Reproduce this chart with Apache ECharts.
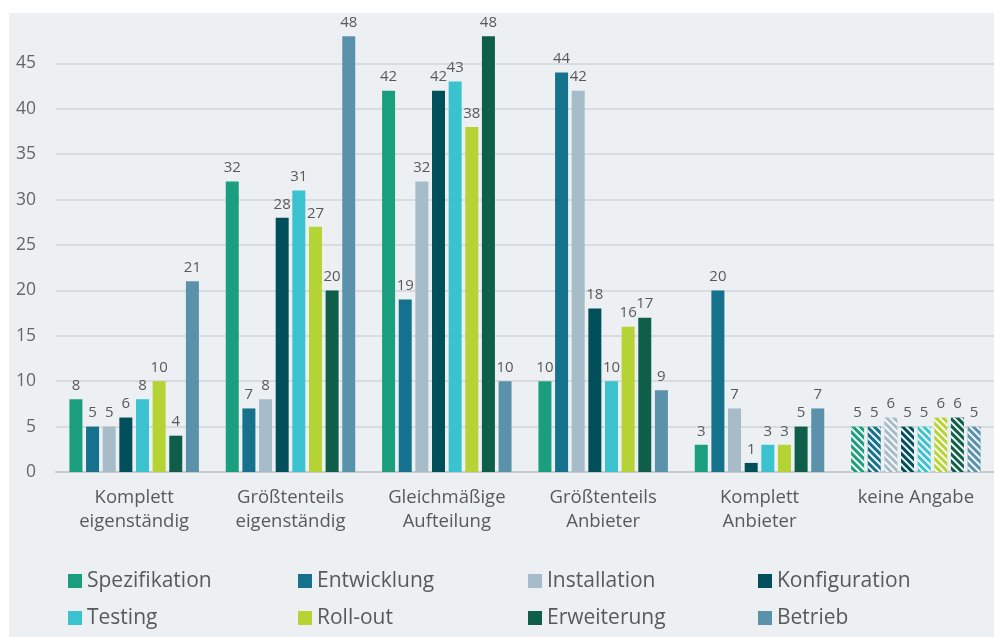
<!DOCTYPE html>
<html><head><meta charset="utf-8">
<script src="https://cdn.jsdelivr.net/npm/echarts@6/dist/echarts.min.js"></script>
<style>
html,body{margin:0;padding:0;background:#fff;}
#bg{position:absolute;left:9px;top:13px;width:985px;height:624px;background:#edf0f3;}
#chart{position:absolute;left:0;top:0;width:994px;height:637px;}
</style></head>
<body><div id="bg"></div><div id="chart"></div>
<script>
const categories = ['Komplett\neigenständig','Größtenteils\neigenständig','Gleichmäßige\nAufteilung','Größtenteils\nAnbieter','Komplett\nAnbieter','keine Angabe'];
const seriesNames = ['Spezifikation','Entwicklung','Installation','Konfiguration','Testing','Roll-out','Erweiterung','Betrieb'];
const spezifikation = [8, 32, 42, 10, 3, 5];
const entwicklung = [5, 7, 19, 44, 20, 5];
const installation = [5, 8, 32, 42, 7, 6];
const konfiguration = [6, 28, 42, 18, 1, 5];
const testing = [8, 31, 43, 10, 3, 5];
const rollout = [10, 27, 38, 16, 3, 6];
const erweiterung = [4, 20, 48, 17, 5, 6];
const betrieb = [21, 48, 10, 9, 7, 5];
const hatchedCategory = 'keine Angabe';

const values = [spezifikation, entwicklung, installation, konfiguration, testing, rollout, erweiterung, betrieb];
const colors = ['#1a9e7e','#16718c','#a6bcc8','#004f5a','#3ac3cf','#b5d334','#0f5e4a','#5a92ac'];
const FONT = '"Open Sans", "Noto Sans", sans-serif';

const chart = echarts.init(document.getElementById('chart'));
const series = seriesNames.map((name, i) => ({
  name: name,
  type: 'bar',
  barWidth: 13,
  barGap: '28%',
  itemStyle: { color: colors[i] },
  label: { show: true, position: 'top', distance: 6, color: '#595959', fontSize: 15, fontFamily: FONT },
  data: values[i].map((v, j) => {
    if (categories[j] === hatchedCategory) {
      return { value: v, itemStyle: { color: colors[i], decal: { symbol: 'rect', color: 'rgba(255,255,255,0.95)', dashArrayX: [1, 0], dashArrayY: [2, 3], rotation: Math.PI / 4 } } };
    }
    return v;
  })
}));

chart.setOption({
  animation: false,
  backgroundColor: 'transparent',
  grid: { left: 56, right: 0, top: 18, bottom: 165 },
  xAxis: {
    type: 'category',
    data: categories,
    axisTick: { show: false },
    axisLine: { lineStyle: { color: '#c9cccf', width: 2 } },
    axisLabel: { color: '#595959', fontSize: 18.5, lineHeight: 24, margin: 14, fontFamily: FONT, interval: 0 }
  },
  yAxis: {
    type: 'value',
    min: 0, max: 50, interval: 5,
    axisLine: { show: false },
    axisTick: { show: false },
    axisLabel: { color: '#666', fontSize: 17.5, margin: 20, fontFamily: FONT, showMaxLabel: false },
    splitLine: { showMaxLine: false, lineStyle: { color: '#d9dcdf', width: 2 } }
  },
  legend: {
    left: 63, top: 563, width: 935, padding: 5,
    itemWidth: 14, itemHeight: 14, itemGap: 11,
    icon: 'rect',
    textStyle: { color: '#595959', fontSize: 21, fontFamily: FONT, width: 200, lineHeight: 26 },
    data: seriesNames
  },
  series: series
});
</script></body></html>
